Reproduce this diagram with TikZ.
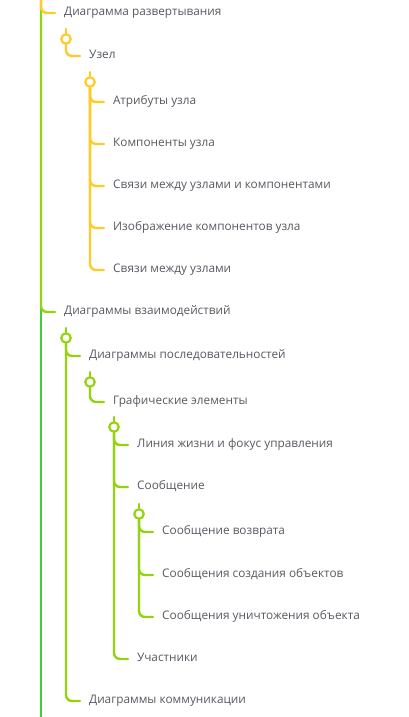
\documentclass[tikz,border=0pt]{standalone}
\usepackage{fontspec}
\setmainfont{Open Sans}
\definecolor{yel}{HTML}{FFCB29}
\definecolor{lim}{HTML}{94D30F}
\definecolor{grn}{HTML}{45CB3A}
\definecolor{txt}{HTML}{55595F}
\tikzset{txt/.style={anchor=west,inner sep=0pt,text height=8pt,text depth=3pt,text=txt,font=\fontsize{11.8}{14}\selectfont}}
\tikzset{yel/.style={draw=yel,line width=2.4pt,rounded corners=6pt,line cap=round}}
\tikzset{lim/.style={draw=lim,line width=2.4pt,rounded corners=6pt,line cap=round}}
\tikzset{yelk/.style={circle,draw=yel,fill=white,line width=2.2pt,inner sep=0pt,minimum size=9.5pt}}
\tikzset{limk/.style={circle,draw=lim,fill=white,line width=2.2pt,inner sep=0pt,minimum size=9.5pt}}

\begin{document}
\begin{tikzpicture}[x=1pt,y=-1pt]
        \useasboundingbox (0,0) rectangle (408,717);
        \coordinate (r0) at (41,0);\coordinate (r1) at (41,717);
        \node[txt] (t1) at (64,13) {Диаграмма развертывания};
        \coordinate (s1) at (66,29);\node[yelk] (k1) at (66,39) {};
        \node[txt] (t2) at (89,56) {Узел};
        \coordinate (s2) at (90,72);\node[yelk] (k2) at (90,82) {};
        \node[txt] (t3) at (113,102) {Атрибуты узла};
        \node[txt] (t4) at (113,144) {Компоненты узла};
        \node[txt] (t5) at (113,186) {Связи между узлами и компонентами};
        \node[txt] (t6) at (113,228) {Изображение компонентов узла};
        \node[txt] (t7) at (113,270) {Связи между узлами};
        \node[txt] (t8) at (64,312) {Диаграммы взаимодействий};
        \coordinate (s3) at (66,328);\node[limk] (k3) at (66,338) {};
        \node[txt] (t9) at (89,356) {Диаграммы последовательностей};
        \coordinate (s4) at (90,372);\node[limk] (k4) at (90,382) {};
        \node[txt] (t10) at (113,402) {Графические элементы};
        \coordinate (s5) at (114,417);\node[limk] (k5) at (114,427) {};
        \node[txt] (t11) at (137,445) {Линия жизни и фокус управления};
        \node[txt] (t12) at (137,487) {Сообщение};
        \coordinate (s6) at (139,504);\node[limk] (k6) at (139,514) {};
        \node[txt] (t13) at (162,532) {Сообщение возврата};
        \node[txt] (t14) at (162,575) {Сообщения создания объектов};
        \node[txt] (t15) at (162,617) {Сообщения уничтожения объекта};
        \node[txt] (t16) at (137,659) {Участники};
        \node[txt] (t17) at (89,701) {Диаграммы коммуникации};

        \draw[grn,line width=2pt] (r0) -- (r1);
        \draw[lim] (r0) |- ([xshift=-9pt]t8.west);
        \draw[yel] (r0) |- ([xshift=-9pt]t1.west);
        \draw[yel] (s1) -- (k1.north);
        \draw[yel] (k1.south) |- ([xshift=-9pt]t2.west);
        \draw[yel] (s2) -- (k2.north);
        \foreach \c in {t3,t4,t5,t6,t7}
            \draw[yel] (k2.south) |- ([xshift=-9pt]\c.west);
        \draw[lim] (s3) -- (k3.north);
        \foreach \c in {t9,t17}
            \draw[lim] (k3.south) |- ([xshift=-9pt]\c.west);
        \draw[lim] (s4) -- (k4.north);
        \draw[lim] (k4.south) |- ([xshift=-9pt]t10.west);
        \draw[lim] (s5) -- (k5.north);
        \foreach \c in {t11,t12,t16}
            \draw[lim] (k5.south) |- ([xshift=-9pt]\c.west);
        \draw[lim] (s6) -- (k6.north);
        \foreach \c in {t13,t14,t15}
            \draw[lim] (k6.south) |- ([xshift=-9pt]\c.west);
    
    \end{tikzpicture}
\end{document}
